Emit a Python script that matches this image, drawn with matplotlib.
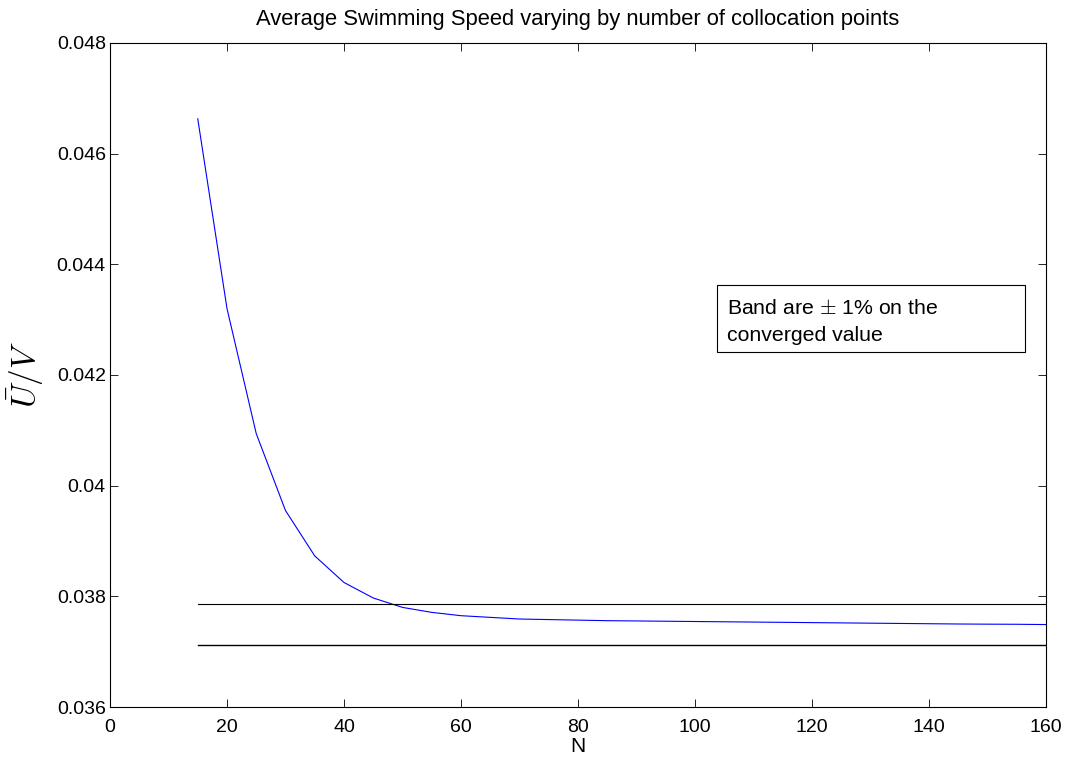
import matplotlib
matplotlib.use("Agg")
import matplotlib.pyplot as plt
from matplotlib.patches import Rectangle

plt.rcParams['font.family'] = ['Liberation Sans', 'DejaVu Sans']
plt.rcParams['mathtext.fontset'] = 'cm'

N = [15, 20, 25, 30, 35, 40, 45, 50, 55, 60, 65, 70, 75, 80, 85, 90, 95, 100,
     105, 110, 115, 120, 125, 130, 135, 140, 145, 150, 155, 160]
U = [0.04663, 0.04320, 0.04094, 0.03955, 0.03873, 0.03825, 0.03797, 0.03780,
     0.03771, 0.03765, 0.03762, 0.03759, 0.03758, 0.03757, 0.03756, 0.037555,
     0.03755, 0.037545, 0.03754, 0.037535, 0.03753, 0.037525, 0.03752, 0.037515,
     0.03751, 0.037505, 0.03750, 0.037497, 0.037495, 0.03749]
converged = 0.037495
band_pct = 0.01
band_upper = converged * (1 + band_pct)
band_lower = converged * (1 - band_pct)

xticks = [0, 20, 40, 60, 80, 100, 120, 140, 160]
yticks = [0.036, 0.038, 0.04, 0.042, 0.044, 0.046, 0.048]
ytick_labels = ['0.036', '0.038', '0.04', '0.042', '0.044', '0.046', '0.048']

fig = plt.figure(figsize=(10.73, 7.58), dpi=100)
ax = fig.add_axes([110/1073, 51/758, 936/1073, 664/758])

ax.plot(N, U, color=(0, 0, 1), lw=0.8)
ax.plot([N[0], N[-1]], [band_upper, band_upper], color='black', lw=0.8)
ax.plot([N[0], N[-1]], [band_lower, band_lower], color='black', lw=1.0)

ax.set_xlim(0, 160)
ax.set_ylim(0.036, 0.048)
ax.set_xticks(xticks)
ax.set_xticklabels([str(t) for t in xticks])
ax.set_yticks(yticks)
ax.set_yticklabels(ytick_labels)
ax.tick_params(direction='in', length=6, width=0.6, top=True, right=True,
               labelsize=14, pad=3)
ax.tick_params(axis='x', pad=9)
for s in ax.spines.values():
    s.set_linewidth(0.8)

ax.set_title('Average Swimming Speed varying by number of collocation points',
             fontsize=15.8, pad=13)
ax.set_xlabel('N', fontsize=15, labelpad=0)
ax.set_ylabel(r'$\bar{U}/V$', fontsize=24, labelpad=8)

ax.add_patch(Rectangle((0.6485, 0.5346), 0.3291, 0.1009, transform=ax.transAxes,
                       fc='white', ec='black', lw=0.8, zorder=3))
ax.text(0.659, 0.6150, 'Band are $\\pm$ 1% on the\nconverged value',
        transform=ax.transAxes, fontsize=15.3, ha='left', va='top',
        linespacing=1.55, zorder=4)

fig.savefig('out.png', dpi=100)
